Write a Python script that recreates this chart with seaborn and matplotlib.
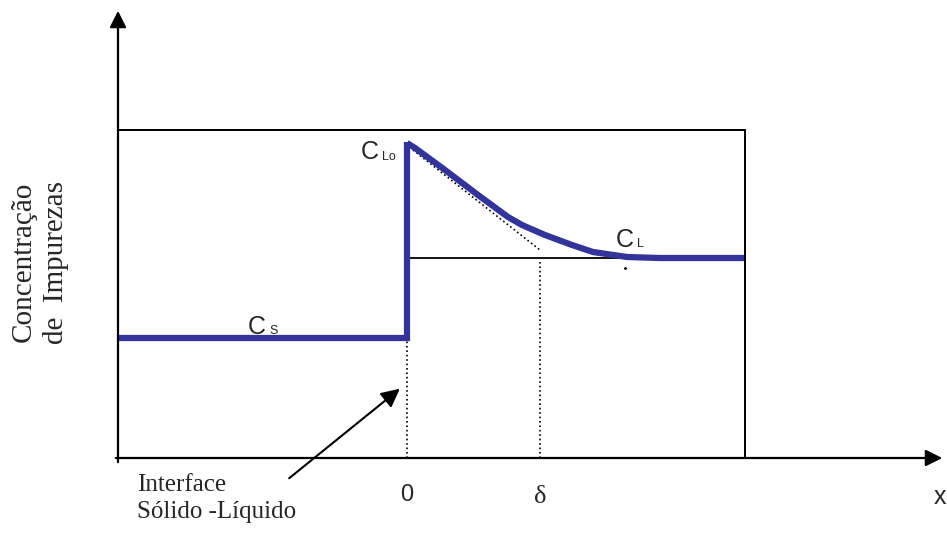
import seaborn as sns
import matplotlib.pyplot as plt
import pandas as pd

# Dados do diagrama (x: posição, interface em 0; y: concentração)
x_solido = [-2.89, 0.0, 0.0]
y_solido = [1.20, 1.20, 3.16]

x_liquido = [0.0, 0.08, 0.38, 0.71, 1.01, 1.15, 1.38, 1.65, 1.86, 2.20, 2.53, 2.86, 3.38]
y_liquido = [3.15, 3.10, 2.88, 2.63, 2.41, 2.33, 2.23, 2.13, 2.06, 2.01, 2.00, 2.00, 2.00]

x_tangente = [0.06, 1.33]
y_tangente = [3.08, 2.08]

delta = 1.33
c_l = 2.0
c_s = 1.2
c_lo = 3.13

x_min, x_max = -2.89, 3.38
y_max = 3.28

azul = '#333399'

sns.set_style('white')
plt.rcParams['font.family'] = ['Liberation Sans', 'DejaVu Sans']
serif = ['Liberation Serif', 'DejaVu Serif']

fig = plt.figure(figsize=(9.47, 5.35), dpi=100)
ax = fig.add_axes([118/947, 77/535, 627/947, 328/535])

# linha de referência C_L e linhas pontilhadas (atrás da curva)
ax.plot([0, x_max], [c_l, c_l], color='black', linewidth=1.3)
ax.plot(x_tangente, y_tangente, color='black', linestyle=':', linewidth=1.2)
ax.plot([delta, delta], [0, 1.96], color='black', linestyle=':', linewidth=1.2)
ax.plot([0, 0], [0, c_s], color='black', linestyle=':', linewidth=1.2)
ax.plot([2.18], [1.90], marker='.', color='black', markersize=2)

df_s = pd.DataFrame({'x': x_solido, 'y': y_solido})
df_l = pd.DataFrame({'x': x_liquido, 'y': y_liquido})
sns.lineplot(data=df_s, x='x', y='y', sort=False, estimator=None, color=azul,
             linewidth=4.5, ax=ax, solid_joinstyle='miter', solid_capstyle='butt')
sns.lineplot(data=df_l, x='x', y='y', sort=False, estimator=None, color=azul,
             linewidth=4.5, ax=ax, solid_joinstyle='round', solid_capstyle='butt')

ax.set_xlim(x_min, x_max)
ax.set_ylim(0, y_max)
ax.set_xticks([])
ax.set_yticks([])
ax.set_xlabel('')
ax.set_ylabel('')
for s in ['left', 'bottom']:
    ax.spines[s].set_visible(False)
for s in ['top', 'right']:
    ax.spines[s].set_color('black')
    ax.spines[s].set_linewidth(1.4)

# eixos com setas
seta = dict(arrowstyle='-|>', color='black', linewidth=1.6, mutation_scale=25)
ax.annotate('', xy=(0.0, 4.5), xytext=(0.0, -0.07), xycoords=('axes fraction', 'data'),
            arrowprops=seta, annotation_clip=False)
ax.annotate('', xy=(5.38, 0), xytext=(-2.94, 0), arrowprops=seta, annotation_clip=False)

# seta da interface
ax.annotate('', xy=(-0.05, 0.71), xytext=(-1.20, -0.22),
            arrowprops=dict(arrowstyle='-|>', color='black', linewidth=1.5, mutation_scale=28),
            annotation_clip=False)

# rótulos
ax.text(-0.37, c_lo - 0.07, 'C', fontsize=18, ha='center', va='center')
ax.text(-0.18, c_lo - 0.12, 'Lo', fontsize=9, ha='center', va='center')
ax.text(-1.50, c_s + 0.11, 'C', fontsize=18, ha='center', va='center')
ax.text(-1.33, c_s + 0.07, 'S', fontsize=9, ha='center', va='center')
ax.text(2.18, c_l + 0.18, 'C', fontsize=18, ha='center', va='center')
ax.text(2.33, c_l + 0.14, 'L', fontsize=9, ha='center', va='center')

ax.text(0.0, -0.37, '0', fontsize=17, ha='center', va='center', clip_on=False)
ax.text(delta, -0.39, 'δ', fontsize=19, ha='center', va='center', clip_on=False,
        family=serif)
ax.text(5.33, -0.39, 'x', fontsize=18, ha='center', va='center', clip_on=False)

ax.text(-2.70, -0.27, 'Interface', fontsize=18, ha='left', va='center', family=serif,
        clip_on=False)
ax.text(-2.70, -0.54, 'Sólido -Líquido', fontsize=18, ha='left', va='center', family=serif,
        clip_on=False)

fig.text(24/947, 1 - 262/535, 'Concentração', fontsize=21, rotation=90, ha='center',
         va='center', family=serif)
fig.text(56/947, 1 - 262/535, 'de  Impurezas', fontsize=21, rotation=90, ha='center',
         va='center', family=serif)

plt.savefig('out.png', dpi=100)
